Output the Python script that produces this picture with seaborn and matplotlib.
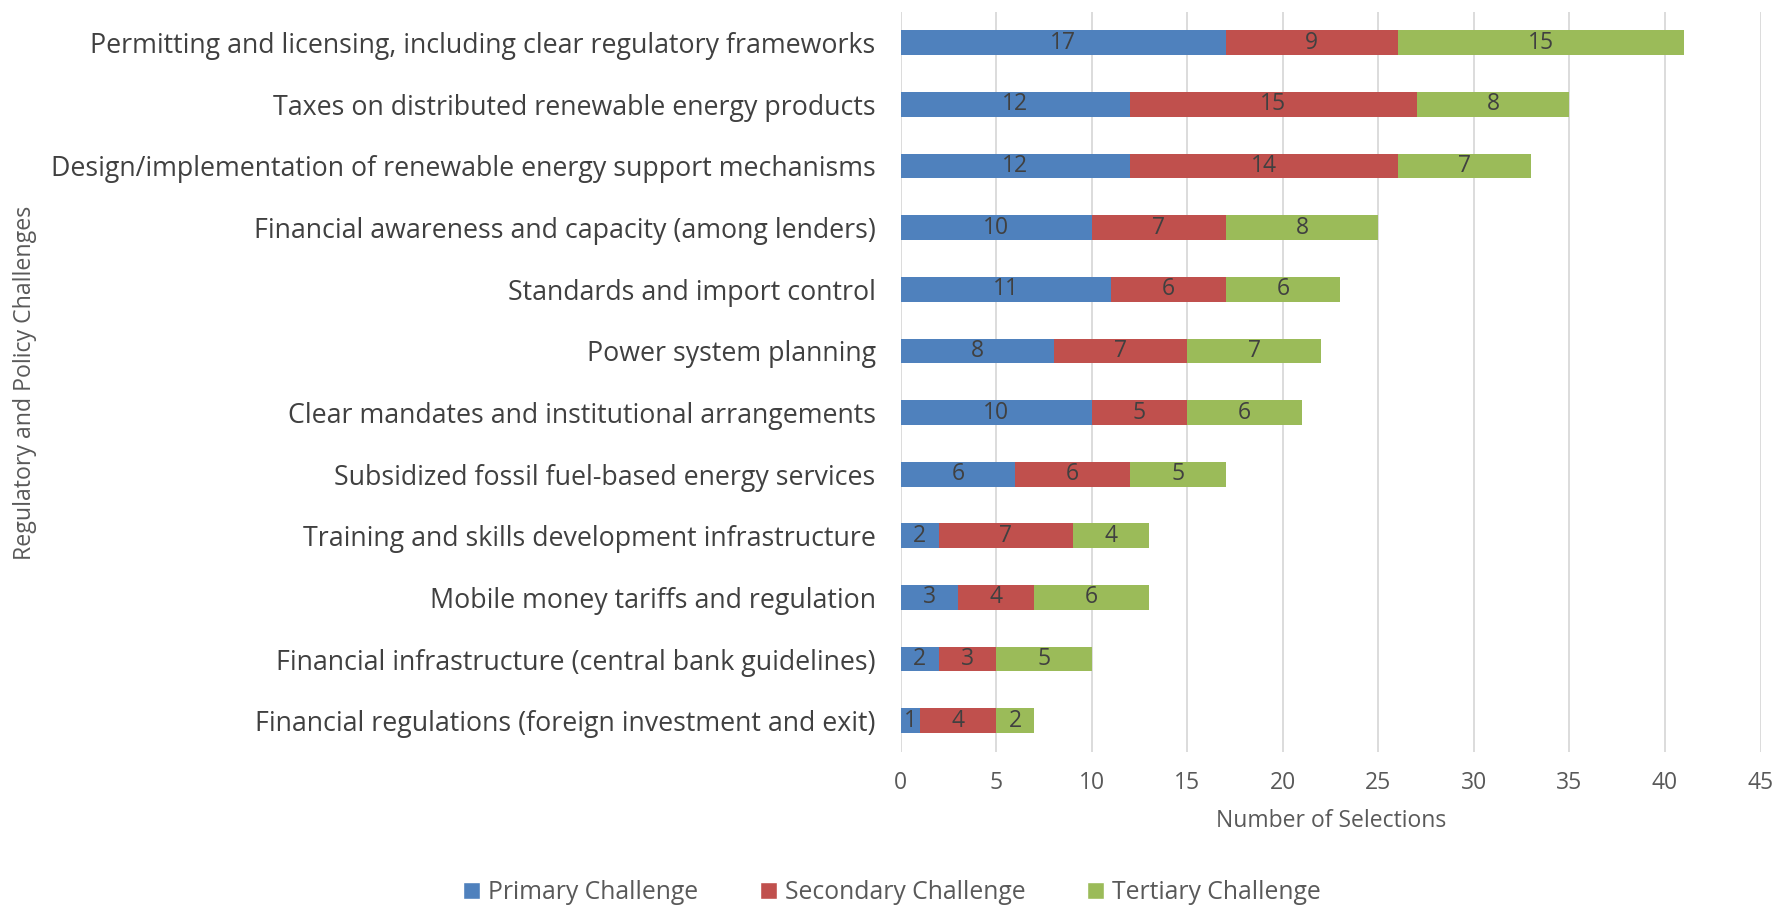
import numpy as np
import pandas as pd
import matplotlib
matplotlib.use('Agg')
import matplotlib.pyplot as plt
import seaborn as sns
from matplotlib.patches import Patch

# dados
challenges = ['Permitting and licensing, including clear regulatory frameworks',
              'Taxes on distributed renewable energy products',
              'Design/implementation of renewable energy support mechanisms',
              'Financial awareness and capacity (among lenders)',
              'Standards and import control',
              'Power system planning',
              'Clear mandates and institutional arrangements',
              'Subsidized fossil fuel-based energy services',
              'Training and skills development infrastructure',
              'Mobile money tariffs and regulation',
              'Financial infrastructure (central bank guidelines)',
              'Financial regulations (foreign investment and exit)']
primary = [17, 12, 12, 10, 11, 8, 10, 6, 2, 3, 2, 1]
secondary = [9, 15, 14, 7, 6, 7, 5, 6, 7, 4, 3, 4]
tertiary = [15, 8, 7, 8, 6, 7, 6, 5, 4, 6, 5, 2]
series_names = ['Primary Challenge', 'Secondary Challenge', 'Tertiary Challenge']
colors = ['#4F81BD', '#C0504D', '#9BBB59']

sns.set_theme(style='white')
plt.rcParams['font.family'] = ['Open Sans', 'DejaVu Sans']

df = pd.DataFrame({'challenge': challenges, 'p': primary, 's': secondary, 't': tertiary})
df['c1'] = df['p']
df['c2'] = df['p'] + df['s']
df['c3'] = df['c2'] + df['t']

fig = plt.figure(figsize=(17.73, 9.11), dpi=100)
ax = fig.add_axes([0.508, 0.175, 0.485, 0.812])

# barras empilhadas: desenha o total primeiro e sobrepoe
for col, cor in zip(['c3', 'c2', 'c1'], colors[::-1]):
    sns.barplot(data=df, x=col, y='challenge', color=cor, width=0.4,
                orient='h', ax=ax, saturation=1, linewidth=0)

# rotulos no centro de cada segmento
for i in range(len(df)):
    lefts = [0, df['c1'][i], df['c2'][i]]
    vals = [df['p'][i], df['s'][i], df['t'][i]]
    for l, v in zip(lefts, vals):
        ax.text(l + v / 2, i, str(v), ha='center', va='center',
                fontsize=16.5, color='#404040')

ax.set_xlim(0, 45)
ax.set_ylim(len(df) - 0.5, -0.5)
ax.set_xticks(range(0, 46, 5))
ax.xaxis.grid(True, color='#D9D9D9', linewidth=1.3)
ax.set_axisbelow(True)
for s in ax.spines.values():
    s.set_visible(False)
ax.tick_params(axis='x', labelsize=16.5, colors='#595959', length=0, pad=14)
ax.tick_params(axis='y', labelsize=19.3, colors='#404040', length=0, pad=18)
ax.set_xlabel('Number of Selections', fontsize=16.5, color='#595959', labelpad=10)
ax.set_ylabel('')
fig.text(0.014, 0.58, 'Regulatory and Policy Challenges', rotation=90,
         ha='center', va='center', fontsize=16.7, color='#595959')

handles = [Patch(facecolor=c, label=n) for c, n in zip(colors, series_names)]
fig.legend(handles=handles, loc='center', bbox_to_anchor=(0.503, 0.02), ncol=3,
           frameon=False, fontsize=17.8, labelcolor='#595959', handlelength=0.7,
           handleheight=0.7, handletextpad=0.3, columnspacing=2.5)

fig.savefig('out.png', dpi=100)
